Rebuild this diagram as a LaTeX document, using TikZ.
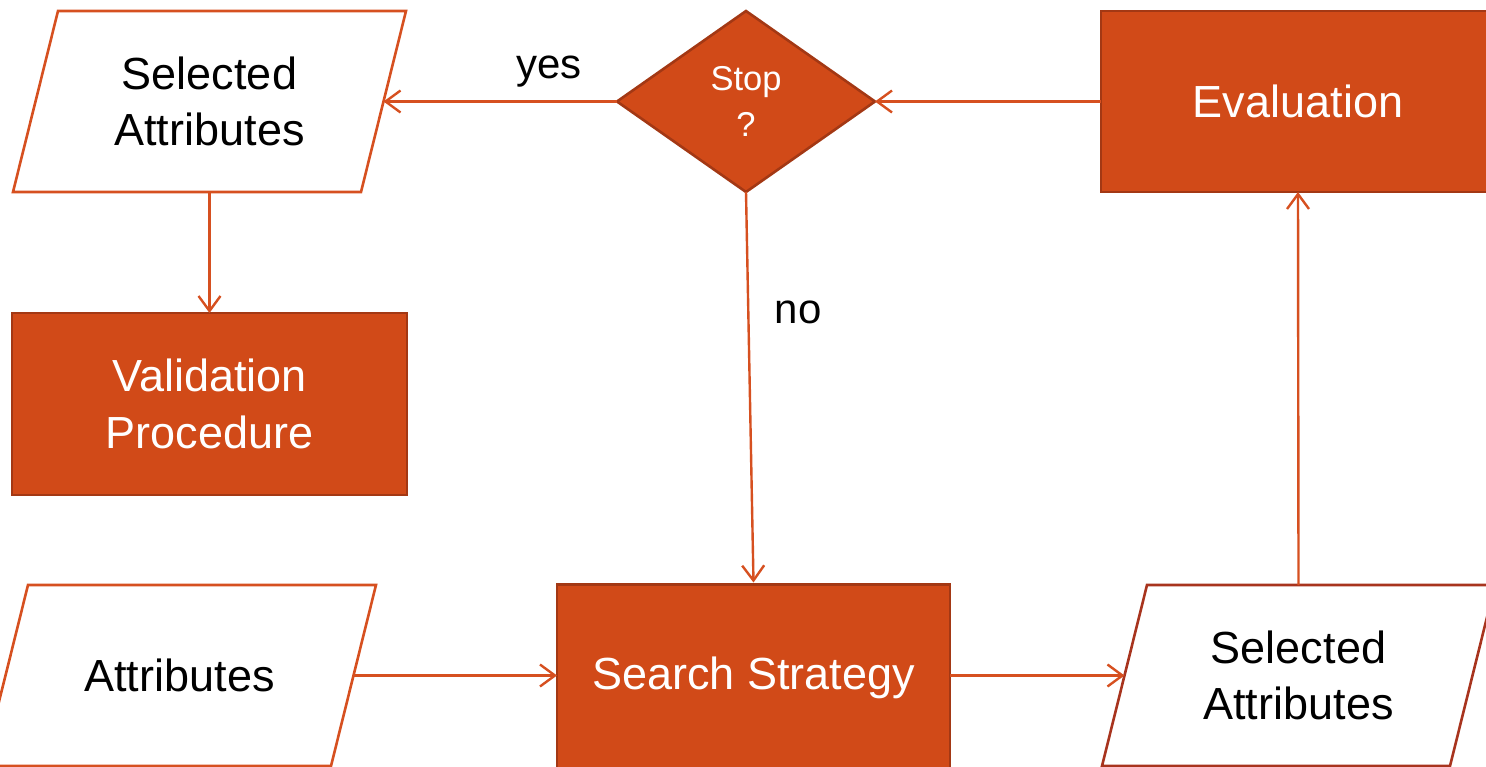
\documentclass[tikz,border=0pt]{standalone}
\usepackage{fontspec}
\setmainfont{Liberation Sans}
\usetikzlibrary{shapes.geometric,arrows.meta}

\definecolor{flowfill}{RGB}{209,74,24}
\definecolor{flowedge}{RGB}{163,56,20}
\definecolor{flowline}{RGB}{214,80,32}
\definecolor{ioedge}{RGB}{214,80,32}
\definecolor{ioedgedark}{RGB}{168,52,30}

\newcommand\flowbigfont{\fontsize{45}{56.5}\selectfont}
\newcommand\flowsmallfont{\fontsize{34.5}{46}\selectfont}
\newcommand\flowlabelfont{\fontsize{42}{50}\selectfont}

\tikzset{
  procbox/.style={draw=flowedge, fill=flowfill, line width=2.6pt, text=white,
    minimum width=394pt, minimum height=181pt, inner sep=0pt, outer sep=0pt,
    align=center, font=\flowbigfont},
  iobox/.style={minimum width=348pt, minimum height=181pt, inner sep=0pt,
    outer sep=0pt, align=center, text=black, font=\flowbigfont},
  iooutline/.style={line width=2.6pt, line join=miter},
  decision/.style={diamond, draw=flowedge, fill=flowfill, line width=2.6pt,
    text=white, minimum width=258pt, minimum height=181pt, inner sep=0pt,
    outer sep=0pt, shape aspect=1.425, align=center, font=\flowsmallfont},
  flowarrow/.style={draw=flowline, line width=2.4pt,
    -{Straight Barb[length=15pt,width=22pt,line width=2.4pt]}},
  flowlabel/.style={text=black, font=\flowlabelfont, inner sep=0pt}
}

\begin{document}
\begin{tikzpicture}[x=1pt,y=-1pt]
  \useasboundingbox (0,0) rectangle (1486,767);

  % process boxes
  \node[procbox] (eval)   at (1298,101.5) {Evaluation};
  \node[procbox, minimum width=395pt, minimum height=182pt] (valid) at (209.5,404) {Validation\\Procedure};
  \node[procbox, minimum width=393pt, minimum height=186pt] (search) at (753.5,677.5) {Search Strategy};

  % decision
  \node[decision] (stop) at (746,101.5) {Stop\\?};

  % data (parallelogram) nodes
  \node[iobox] (sa1)  at (209.5,101.5) {Selected\\Attributes};
  \node[iobox] (attr) at (179.5,675.5) {Attributes};
  \node[iobox] (sa2)  at (1298.5,675.5) {Selected\\Attributes};

  \foreach \n in {sa1,attr}
    \draw[iooutline, draw=ioedge]
      ([xshift=22.5pt]\n.north west) -- ([xshift=22.5pt]\n.north east)
      -- ([xshift=-22.5pt]\n.south east) -- ([xshift=-22.5pt]\n.south west) -- cycle;
  \draw[iooutline, draw=ioedgedark]
    ([xshift=22.5pt]sa2.north west) -- ([xshift=22.5pt]sa2.north east)
    -- ([xshift=-22.5pt]sa2.south east) -- ([xshift=-22.5pt]sa2.south west) -- cycle;

  % connectors
  \draw[flowarrow] (stop.west) -- (sa1.east);
  \draw[flowarrow] (eval.west) -- (stop.east);
  \draw[flowarrow] (sa1.south) -- (valid.north);
  \draw[flowarrow] (stop.south) -- ([yshift=2pt]search.north);
  \draw[flowarrow] (attr.east) -- (attr.east -| search.west);
  \draw[flowarrow] (search.east |- sa2.west) -- (sa2.west);
  \draw[flowarrow] (sa2.north) -- (eval.south);

  % branch labels
  \node[flowlabel] (yes) at (549,72) {yes};
  \node[flowlabel] (no)  at (798,312) {no};
\end{tikzpicture}
\end{document}
